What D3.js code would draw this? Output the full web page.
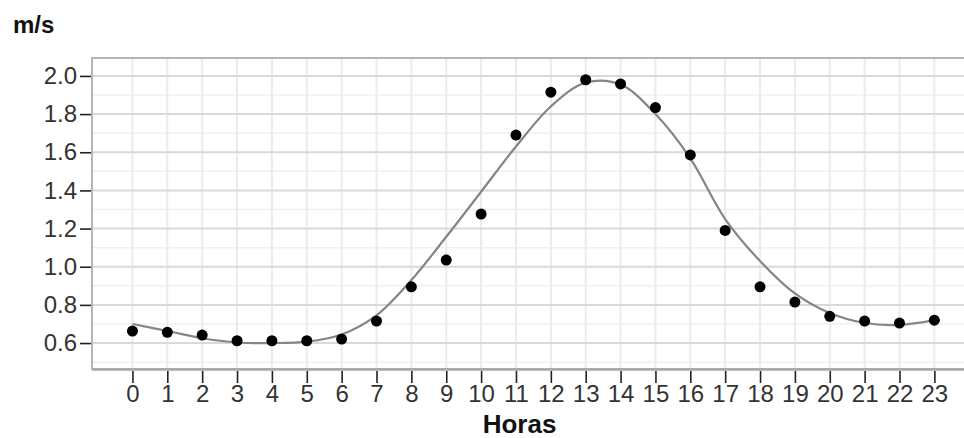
<!DOCTYPE html>
<html>
<head>
<meta charset="utf-8">
<script src="https://cdn.jsdelivr.net/npm/d3@7"></script>
<style>
  body { margin: 0; background: #fff; }
  svg { display: block; font-family: "Liberation Sans", Arial, sans-serif; }
</style>
</head>
<body>
<div id="chart"></div>
<script>
'use strict';

// hourly wind speed (m/s): observed means and smoothed fit
var hours = d3.range(0, 24);
var observed = [0.663, 0.656, 0.642, 0.612, 0.612, 0.612, 0.621, 0.715, 0.895, 1.035,
                1.276, 1.69, 1.915, 1.98, 1.958, 1.834, 1.586, 1.19, 0.895, 0.815,
                0.74, 0.715, 0.705, 0.72];
var smoothed = [0.70, 0.663, 0.625, 0.603, 0.60, 0.607, 0.645, 0.745, 0.93, 1.157,
                1.393, 1.63, 1.84, 1.965, 1.955, 1.80, 1.568, 1.25, 1.03, 0.86,
                0.757, 0.705, 0.695, 0.72];
var yMajor = [0.6, 0.8, 1.0, 1.2, 1.4, 1.6, 1.8, 2.0];
var yMinor = [0.5, 0.7, 0.9, 1.1, 1.3, 1.5, 1.7, 1.9];
var yLabel = 'm/s';
var xLabel = 'Horas';

var chartWidth = 964, chartHeight = 438;
var panel = {left: 92, top: 58, right: 964, bottom: 369};

var svg = d3.select('#chart').append('svg')
    .attr('width', chartWidth)
    .attr('height', chartHeight);

var x = d3.scaleLinear().domain([-1.16, 23.85]).range([panel.left, panel.right]);
var y = d3.scaleLinear().domain([0.464, 2.094]).range([panel.bottom, panel.top]);

// grid
var grid = svg.append('g');
grid.selectAll('.minor')
  .data(yMinor)
  .enter().append('line')
    .attr('x1', panel.left).attr('x2', panel.right)
    .attr('y1', function(d){ return y(d); })
    .attr('y2', function(d){ return y(d); })
    .attr('stroke', '#f0f0f0')
    .attr('stroke-width', 1.5);
grid.selectAll('.vline')
  .data(hours)
  .enter().append('line')
    .attr('x1', function(d){ return x(d); })
    .attr('x2', function(d){ return x(d); })
    .attr('y1', panel.top).attr('y2', panel.bottom)
    .attr('stroke', '#ebebeb')
    .attr('stroke-width', 2);
grid.selectAll('.major')
  .data(yMajor)
  .enter().append('line')
    .attr('x1', panel.left).attr('x2', panel.right)
    .attr('y1', function(d){ return y(d); })
    .attr('y2', function(d){ return y(d); })
    .attr('stroke', '#d9d9d9')
    .attr('stroke-width', 2);

// panel border
svg.append('path')
    .attr('d', 'M' + panel.right + ',' + panel.top + 'H' + panel.left + 'V' + panel.bottom + 'H' + panel.right)
    .attr('fill', 'none')
    .attr('stroke', '#b5b5b5')
    .attr('stroke-width', 2);
svg.append('line')
    .attr('x1', panel.left).attr('x2', panel.right)
    .attr('y1', panel.bottom + 0.5).attr('y2', panel.bottom + 0.5)
    .attr('stroke', '#a8a8a8')
    .attr('stroke-width', 2.5);

// axes
var yAxis = svg.append('g')
    .attr('transform', 'translate(' + (panel.left - 1) + ',0)')
    .call(d3.axisLeft(y).tickValues(yMajor).tickFormat(d3.format('.1f')).tickSize(11).tickPadding(3));
var xAxis = svg.append('g')
    .attr('transform', 'translate(0,' + (panel.bottom + 2) + ')')
    .call(d3.axisBottom(x).tickValues(hours).tickFormat(d3.format('d')).tickSize(12).tickPadding(2));
[yAxis, xAxis].forEach(function(a){
  a.select('.domain').remove();
  a.selectAll('.tick line').attr('stroke', '#222').attr('stroke-width', 1.6);
  a.selectAll('.tick text')
    .attr('fill', '#333')
    .style('font-size', '24px')
    .style('font-family', '"Liberation Sans", Arial, sans-serif');
});

// smoothed line
var line = d3.line()
    .x(function(d, i){ return x(hours[i]); })
    .y(function(d){ return y(d); })
    .curve(d3.curveCatmullRom.alpha(0.5));
svg.append('path')
    .datum(smoothed)
    .attr('d', line)
    .attr('fill', 'none')
    .attr('stroke', '#858585')
    .attr('stroke-width', 2.2);

// observed points
svg.selectAll('.pt')
  .data(observed)
  .enter().append('circle')
    .attr('class', 'pt')
    .attr('cx', function(d, i){ return x(hours[i]); })
    .attr('cy', function(d){ return y(d); })
    .attr('r', 5.5)
    .attr('fill', '#000');

// titles
svg.append('text')
    .attr('x', 13).attr('y', 33)
    .attr('font-size', 24).attr('font-weight', 'bold')
    .attr('fill', '#111')
    .text(yLabel);
svg.append('text')
    .attr('x', 519.5).attr('y', 433)
    .attr('text-anchor', 'middle')
    .attr('font-size', 26).attr('font-weight', 'bold')
    .attr('fill', '#111')
    .text(xLabel);
</script>
</body>
</html>
